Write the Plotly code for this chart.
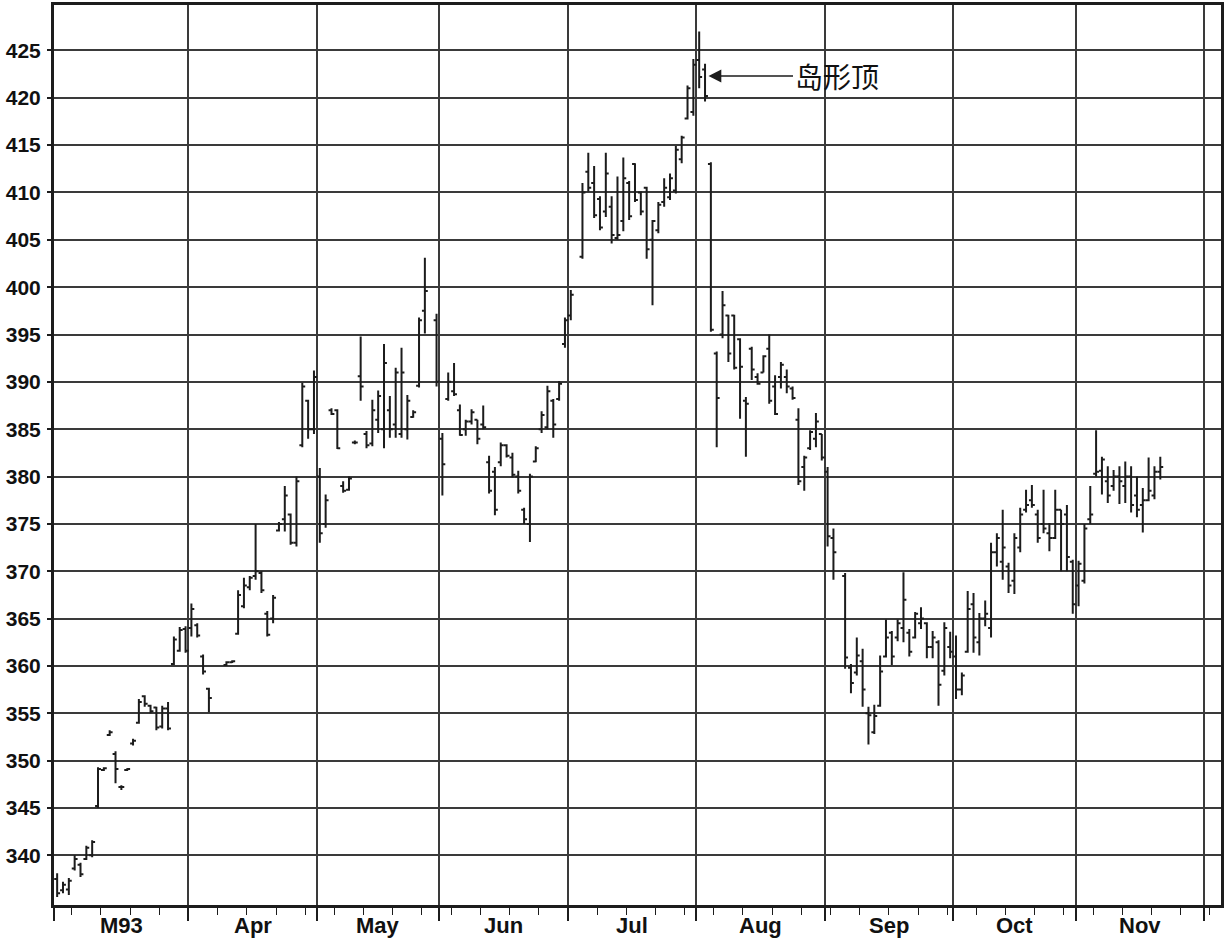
import pandas as pd
import plotly.graph_objects as go

# ---------------- data ----------------
# one value per trading day, starting 1993-03-02 (rows = months Mar..Nov)
opens = [
    337.5, 336.3, 336.4, 338.6, 339.0, 339.6, 340.0, 345.2, 349.0, 352.7, 350.7, 347.2, 349.0, 351.8, 354.0, 356.8, 355.8, 355.6, 353.6, 355.5, 360.2, 361.6,
    363.9, 364.0, 364.3, 361.0, 357.6, None, 360.1, 360.4, 363.4, 366.3, 368.3, 369.5, 369.8, 365.5, 365.0, 374.3, 375.5, 376.0, 373.0, 383.3, 388.0,
    385.0, 380.0, 375.0, 387.0, 387.0, 379.0, 378.6, 383.6, 390.6, 384.5, 383.5, 386.0, 385.0, 387.0, 385.5, 384.5, 385.0, 386.3, 389.6, 397.5,
    396.5, 384.0, 388.2, 389.0, 387.0, 385.0, 385.8, 386.0, 385.5, 381.5, 380.5, 381.5, 383.3, 382.0, 380.0, 376.5, 375.0, 381.6, 385.0, 385.2, 388.0, 388.2,
    394.0, 397.0, 403.2, 412.2, 411.0, 409.3, 408.0, 408.5, 405.2, 407.0, 411.0, 413.0, 410.0, 410.5, 405.0, 406.0, 409.0, 409.5, 410.2, 413.5, 417.8,
    418.5, 424.0, 423.0, 413.0, 393.0, 395.0, 397.0, 397.0, 394.5, 388.0, 393.5, 390.5, 391.0, 393.5, 389.5, 390.5, 390.5, 389.3, 386.0, 381.0, 383.0, 384.0,
    384.5, 380.5, 373.5, 369.5, 359.8, 359.3, 360.5, 355.0, 353.0, 355.8, 361.0, 363.5, 363.0, 364.0, 363.5, 363.0, 364.5, 364.5, 362.0, 362.5, 359.5,
    362.0, 361.0, 357.5, 361.5, 366.5, 362.5, 365.0, 364.0, 372.0, 371.0, 370.5, 369.0, 372.5, 376.5, 377.5, 376.0, 375.0, 374.0, 373.5, 376.5, 376.0,
    371.0, 368.5, 369.0, 375.5, 380.3, 380.6, 379.5, 379.0, 380.0, 379.0, 380.0, 378.0, 377.0, 377.5, 378.0, 380.5,
]
highs = [
    338.1, 337.2, 337.6, 340.0, 339.2, 341.0, 341.6, 349.3, 349.3, 353.2, 351.0, 347.4, 349.2, 352.3, 356.5, 356.9, 355.9, 355.7, 355.8, 356.2, 363.1, 364.1,
    364.2, 366.6, 364.5, 361.2, 357.7, None, 360.5, 360.6, 368.0, 369.3, 369.5, 375.0, 370.0, 365.8, 367.5, 375.2, 379.0, 376.1, 380.0, 389.9, 388.1,
    391.2, 380.9, 378.1, 387.2, 387.1, 379.5, 380.0, 383.8, 394.8, 384.8, 388.1, 389.1, 394.0, 388.5, 391.5, 393.6, 388.6, 387.0, 396.8, 403.1,
    397.2, 384.6, 391.0, 392.0, 387.6, 386.0, 387.1, 386.0, 387.5, 382.2, 381.0, 383.6, 383.4, 382.5, 380.6, 376.7, 380.3, 383.2, 386.9, 389.6, 388.2, 390.1,
    396.8, 399.7, 411.0, 414.2, 412.8, 409.6, 414.2, 409.6, 411.7, 413.7, 411.2, 413.1, 410.1, 410.6, 407.1, 409.0, 411.5, 412.0, 414.9, 416.0, 421.3,
    424.1, 427.0, 423.6, 413.2, 393.2, 399.6, 397.1, 397.1, 394.6, 388.4, 393.7, 390.9, 392.8, 395.0, 390.7, 392.1, 391.3, 389.5, 387.2, 382.2, 384.9, 386.7,
    384.5, 381.0, 374.5, 369.8, 360.2, 363.0, 361.8, 355.7, 355.9, 361.1, 364.9, 363.7, 364.9, 369.9, 363.9, 365.7, 366.2, 364.6, 363.7, 362.7, 364.6,
    363.6, 363.2, 359.3, 367.9, 367.7, 365.6, 366.9, 373.0, 374.0, 376.5, 370.9, 374.0, 376.7, 378.6, 379.1, 376.5, 378.6, 375.1, 378.6, 376.5, 377.0,
    371.2, 371.1, 375.0, 379.0, 384.9, 382.1, 381.1, 380.7, 381.1, 381.6, 381.1, 380.0, 378.8, 382.0, 381.1, 382.1,
]
lows = [
    335.6, 336.0, 335.8, 338.4, 337.7, 339.5, 339.8, 345.0, 348.9, 352.6, 347.6, 346.9, 348.9, 351.6, 353.9, 355.7, 355.0, 353.2, 353.4, 353.2, 360.1, 361.5,
    361.4, 363.1, 363.0, 359.1, 355.1, None, 360.0, 360.3, 363.3, 366.1, 368.0, 369.1, 367.7, 363.1, 364.5, 374.2, 374.2, 372.8, 372.6, 383.1, 384.0,
    384.5, 373.0, 374.6, 386.5, 382.9, 378.3, 378.5, 383.4, 388.0, 383.0, 383.2, 384.6, 383.0, 384.1, 384.1, 384.1, 383.9, 386.2, 389.4, 395.1,
    389.5, 378.0, 388.0, 388.5, 384.3, 384.3, 385.5, 383.4, 385.0, 378.2, 375.9, 381.1, 382.0, 379.9, 378.2, 375.0, 373.1, 381.5, 384.6, 385.0, 384.1, 388.0,
    393.6, 396.5, 403.0, 410.1, 407.3, 406.0, 407.4, 404.6, 405.0, 405.9, 407.1, 409.0, 407.6, 403.0, 398.1, 405.7, 408.5, 409.2, 409.9, 413.1, 417.7,
    418.1, 421.0, 419.6, 395.3, 383.1, 394.6, 392.1, 391.3, 386.1, 382.1, 390.2, 389.7, 391.0, 387.7, 386.5, 389.3, 388.8, 388.1, 379.1, 378.5, 382.8, 383.1,
    381.7, 372.6, 369.1, 359.7, 357.1, 359.0, 355.7, 351.7, 352.8, 355.7, 360.9, 360.1, 362.6, 362.5, 361.0, 362.9, 363.9, 360.8, 360.8, 355.8, 359.0,
    360.8, 356.5, 356.9, 361.4, 361.4, 361.1, 364.2, 363.0, 370.5, 369.1, 367.7, 367.6, 372.0, 376.2, 376.7, 373.0, 374.0, 372.1, 373.4, 370.0, 370.0,
    365.5, 366.3, 368.7, 375.0, 380.0, 378.1, 377.2, 378.5, 377.1, 377.2, 376.2, 375.7, 374.1, 377.4, 377.6, 379.7,
]
closes = [
    336.0, 336.9, 337.3, 339.6, 338.0, 340.8, 341.4, 349.1, 349.2, 353.0, 349.1, 347.2, 349.1, 352.1, 356.2, 356.0, 355.2, 353.5, 355.5, 353.4, 362.8, 363.8,
    361.6, 366.0, 363.2, 359.4, 356.6, None, 360.4, 360.5, 367.5, 368.5, 369.3, 370.0, 368.0, 363.3, 367.2, 375.0, 378.0, 373.0, 379.5, 389.5, 385.0,
    390.5, 374.0, 377.5, 386.6, 383.0, 378.5, 379.8, 383.6, 389.5, 383.3, 387.0, 388.5, 392.0, 385.0, 391.0, 391.0, 388.0, 386.8, 396.5, 399.6,
    390.0, 381.3, 390.0, 388.7, 384.4, 385.8, 386.8, 384.0, 385.2, 378.5, 376.5, 383.3, 382.2, 380.2, 378.5, 375.5, 380.0, 383.0, 386.5, 389.0, 385.5, 389.8,
    396.5, 399.2, 410.0, 410.5, 407.6, 406.3, 412.0, 405.5, 405.5, 411.5, 407.5, 409.2, 408.0, 404.0, 407.0, 408.7, 410.5, 411.5, 414.5, 415.8, 421.0,
    423.5, 422.2, 420.2, 395.5, 388.3, 398.1, 393.0, 391.5, 391.6, 387.7, 391.3, 389.8, 392.7, 388.0, 386.6, 391.8, 389.5, 388.3, 379.5, 382.0, 384.7, 385.8,
    382.0, 373.7, 372.0, 360.9, 358.2, 361.1, 357.5, 354.8, 354.7, 359.4, 363.0, 361.0, 364.5, 367.0, 361.5, 365.5, 365.0, 362.0, 363.0, 358.0, 364.0,
    361.5, 357.5, 359.0, 366.0, 363.0, 365.0, 365.5, 372.0, 373.5, 372.5, 368.5, 373.5, 376.0, 377.0, 377.0, 373.5, 374.5, 373.5, 376.5, 375.0, 371.5,
    366.5, 370.8, 374.5, 376.0, 380.5, 381.8, 378.0, 380.0, 379.5, 380.0, 377.0, 376.5, 377.5, 378.5, 380.5, 381.0,
]
month_labels = ["M93", "Apr", "May", "Jun", "Jul", "Aug", "Sep", "Oct", "Nov"]
y_ticks = list(range(340, 426, 5))
holidays = ["1993-04-09", "1993-05-31", "1993-07-05", "1993-09-06", "1993-11-25"]
first_day = "1993-03-02"
note_text = "岛形顶"
note_date = "1993-08-04"
note_price = 422.3

# ---------------- time axis: one slot per weekday ----------------
weekdays = pd.bdate_range("1993-03-01", "1993-12-31")
slot = {d: k for k, d in enumerate(weekdays)}
hol = set(pd.to_datetime(holidays))
trade_days = [d for d in weekdays if d >= pd.Timestamp(first_day) and d not in hol][:len(opens)]
xs = [slot[d] for d in trade_days]

month_lines = []
for m in range(3, 13):
    first = next(d for d in weekdays if d.month == m)
    month_lines.append(slot[first] + 0.5)
month_centers = [(month_lines[k] + month_lines[k + 1]) / 2 for k in range(len(month_labels))]
thursdays = [slot[d] + 0.5 for d in weekdays if d.weekday() == 3]

x_range = [0.46, 200.4]
y_range = [334.75, 429.8]

INK = "#1c1c1c"
GRID = "#3a3a3a"
FONT = dict(family="Liberation Sans, Arial, sans-serif", size=21, color="#111111", weight="bold")
XFONT = dict(family="Liberation Sans, Arial, sans-serif", size=22, color="#111111", weight="bold")

fig = go.Figure()
fig.add_trace(go.Ohlc(
    x=xs, open=opens, high=highs, low=lows, close=closes,
    increasing=dict(line=dict(color=INK, width=2)),
    decreasing=dict(line=dict(color=INK, width=2)),
    tickwidth=0.5, showlegend=False, hoverinfo="x+y",
))

# month names centred between the month grid lines
for cx, lab in zip(month_centers, month_labels):
    fig.add_annotation(x=cx, y=0, xref="x", yref="paper", text=lab, showarrow=False,
                       yanchor="middle", xanchor="center", yshift=-20, font=XFONT)

fig.add_annotation(
    x=slot[pd.Timestamp(note_date)] + 0.6, y=note_price, xref="x", yref="y",
    text=note_text, showarrow=True, arrowhead=2, arrowsize=1.6, arrowwidth=1.6,
    arrowcolor=INK, ax=128, ay=0, axref="pixel", ayref="pixel", standoff=0,
    font=dict(family="Noto Sans CJK SC", size=28, color="#111111"),
)

fig.update_layout(
    width=1224, height=939,
    margin=dict(l=54, r=3, t=5, b=34, autoexpand=False),
    paper_bgcolor="white", plot_bgcolor="white",
    showlegend=False,
    xaxis=dict(
        type="linear", range=x_range, tickmode="array", tickvals=month_lines,
        showticklabels=False, showgrid=True, gridcolor=GRID, gridwidth=1.6,
        ticks="outside", ticklen=13, tickwidth=1.6, tickcolor=INK,
        showline=True, linecolor=INK, linewidth=3, mirror=True, zeroline=False,
        automargin=False, rangeslider=dict(visible=False),
        minor=dict(tickmode="array", tickvals=thursdays, ticks="outside",
                   ticklen=7, tickwidth=1.4, tickcolor=INK, showgrid=False),
    ),
    yaxis=dict(
        range=y_range, tickmode="array", tickvals=y_ticks,
        showgrid=True, gridcolor=GRID, gridwidth=1.6,
        ticks="outside", ticklen=4, tickwidth=1.6, tickcolor=INK,
        ticklabelstandoff=2, tickfont=FONT, automargin=False,
        showline=True, linecolor=INK, linewidth=3, mirror=True, zeroline=False,
    ),
)

# the page's default 8px body margin would shift the figure; remove it
fig.write_html(
    "out.html",
    config={"displayModeBar": False},
    post_script="document.body.style.margin='0';document.body.style.overflow='hidden';",
)
